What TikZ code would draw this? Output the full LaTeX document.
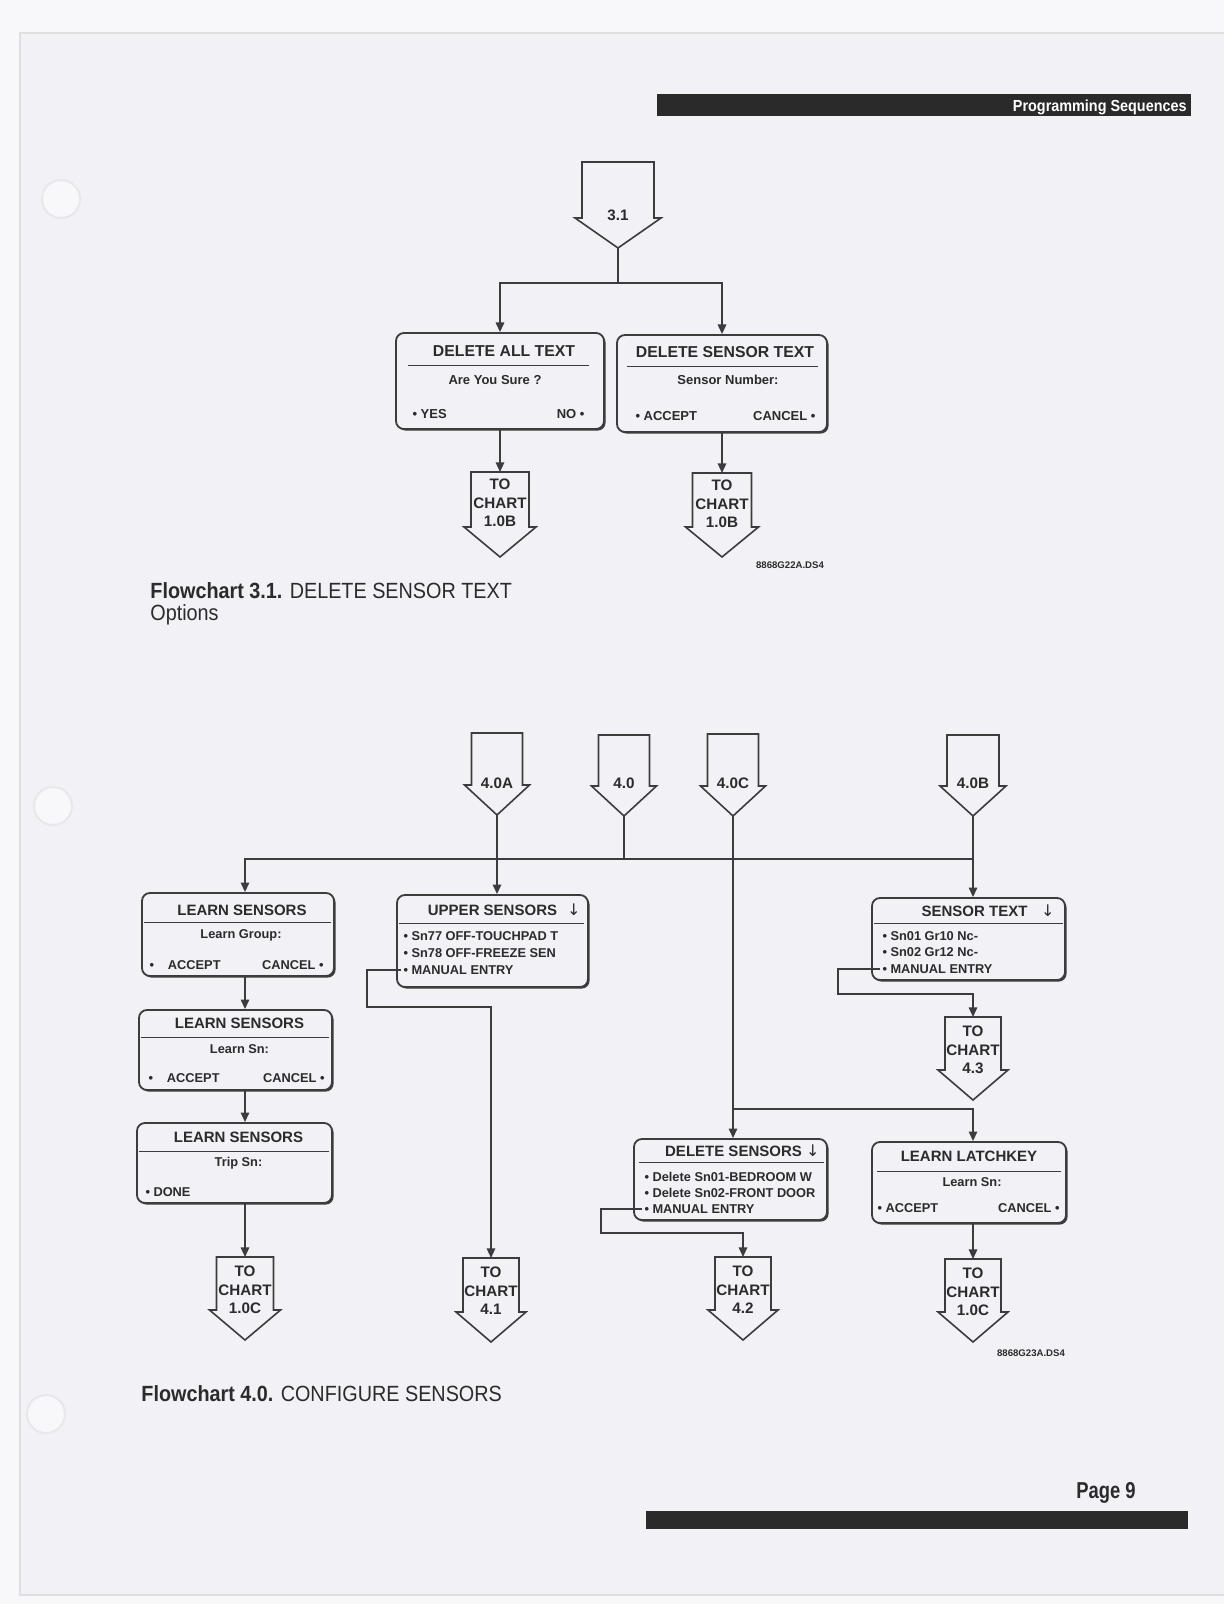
\documentclass[tikz,border=0pt]{standalone}
\usepackage{fontspec}
\setmainfont{Liberation Sans}
\newfontfamily\symfont{DejaVu Sans}
\newfontfamily\capfont{Liberation Sans}[FakeStretch=0.9]
\newfontfamily\condfont{Liberation Sans}[FakeStretch=0.8]
\usetikzlibrary{arrows.meta, calc, positioning, shadows}
\definecolor{pgBack}{HTML}{F1F1F6}
\definecolor{pgEdge}{HTML}{F8F8FA}
\definecolor{pgInk}{HTML}{2B2B2B}
\definecolor{pgLine}{HTML}{3C3C3C}
\definecolor{pgBar}{HTML}{2A2A2A}
\tikzset{
  flow/.style       = {-{Triangle[length=4.8pt, width=4.2pt]}, line width=0.9pt, pgLine},
  joinline/.style   = {line width=0.9pt, pgLine},
  blockarrow/.style = {draw=pgLine, line width=0.8pt, fill=pgBack, line join=miter},
  arrowlbl/.style   = {font=\bfseries\fontsize{7.6}{9.3}\selectfont, text=pgInk,
                       align=center, inner sep=0},
  menubox/.style    = {draw=pgLine, line width=0.9pt, rounded corners=4pt, fill=pgBack,
                       inner sep=0, drop shadow={shadow xshift=0.8pt,
                       shadow yshift=-0.8pt, fill=pgLine, opacity=1}},
  boxrule/.style    = {pgLine, line width=0.5pt},
  ttl/.style        = {font=\bfseries\fontsize{7.5}{9}\selectfont, text=pgInk, inner sep=0},
  bigttl/.style     = {ttl, font=\bfseries\fontsize{7.9}{9}\selectfont},
  subtxt/.style     = {font=\bfseries\fontsize{6.4}{7}\selectfont, text=pgInk, inner sep=0},
  bigsub/.style     = {subtxt, font=\bfseries\fontsize{6.5}{7}\selectfont},
  dnmark/.style     = {font=\symfont\fontsize{8}{9}\selectfont, text=pgInk, inner sep=0},
  capttl/.style     = {font=\capfont\fontsize{11}{11}\selectfont, text=pgInk,
                       align=left, inner sep=0},
  codelbl/.style    = {font=\bfseries\fontsize{4.8}{5}\selectfont, text=pgInk, inner sep=0},
}
% name, centre x, top y, half body width, body height, label offset, label
\newcommand{\blockarrow}[7]{%
  \draw[blockarrow] (#2-#4,#3) -- (#2+#4,#3) -- (#2+#4,#3+#5)
    -- (#2+#4+7,#3+#5) -- (#2,#3+#5+30) -- (#2-#4-7,#3+#5)
    -- (#2-#4,#3+#5) -- cycle;
  \coordinate (#1-in) at (#2,#3);
  \coordinate (#1-out) at (#2,#3+#5+30);
  \node[arrowlbl] (#1) at (#2,#3+#6) {#7};}

\begin{document}
\begin{tikzpicture}[x=0.5pt, y=-0.5pt]
  \useasboundingbox (0,0) rectangle (1224,1604);
  % page
  \fill[pgEdge] (0,0) rectangle (1224,1604);
  \fill[pgBack] (20,33) rectangle (1224,1595);
  \draw[gray!25, line width=0.6pt] (1224,33) -- (20,33) -- (20,1595) -- (1224,1595);
  \foreach \hx/\hy in {61/199, 53/806, 46/1414}
    \draw[gray!18, fill=pgEdge, line width=1pt] (\hx,\hy) circle[radius=19];

  % header and footer
  \fill[pgBar] (657,94) rectangle (1191,116);
  \node[font=\capfont\bfseries\fontsize{8}{9}\selectfont, text=white, anchor=east,
        inner sep=0] (hdr) at (1187,107.5) {Programming Sequences};
  \node[font=\condfont\bfseries\fontsize{11.5}{12}\selectfont, text=pgInk, inner sep=0]
    (pg) at (1106,1493) {Page 9};
  \fill[pgBar] (646,1511) rectangle (1188,1529);

  % ---- Flowchart 3.1 ----
  \blockarrow{a31}{618}{162}{36}{56}{53}{3.1}

  \node[menubox, minimum width=104pt, minimum height=48pt] (dall) at (500,381) {};
  \node[bigttl] (dall-t) at ($(dall.north)+(4,19)$) {DELETE ALL TEXT};
  \draw[boxrule] ($(dall.north west)+(13,33)$) -- ($(dall.north east)+(-16,33)$);
  \node[bigsub] (dall-s) at ($(dall.north)+(-5,48)$) {Are You Sure ?};
  \node[bigsub, anchor=west] (dall-y) at ($(dall.north west)+(17,82)$) {\textbullet\ YES};
  \node[bigsub, anchor=east] (dall-n) at ($(dall.north east)+(-20,82)$) {NO \textbullet};

  \node[menubox, minimum width=105pt, minimum height=48.5pt] (dsens) at (722,383.5) {};
  \node[bigttl] (dsens-t) at ($(dsens.north)+(3,18)$) {DELETE SENSOR TEXT};
  \draw[boxrule] ($(dsens.north west)+(11,32)$) -- ($(dsens.north east)+(-10,32)$);
  \node[bigsub] (dsens-s) at ($(dsens.north)+(6,46)$) {Sensor Number:};
  \node[bigsub, anchor=west] (dsens-a) at ($(dsens.north west)+(19,82)$) {\textbullet\ ACCEPT};
  \node[bigsub, anchor=east] (dsens-c) at ($(dsens.north east)+(-12,82)$) {CANCEL \textbullet};

  \blockarrow{tc1}{500}{472}{29}{55}{31}{TO\\CHART\\1.0B}
  \blockarrow{tc2}{722}{473}{29.5}{54}{31}{TO\\CHART\\1.0B}

  \coordinate (tfork) at ($(a31-out)+(0,35)$);
  \draw[joinline] (a31-out) -- (tfork);
  \draw[flow] (tfork) -| (dall.north);
  \draw[flow] (tfork) -| (dsens.north);
  \draw[flow] (dall.south) -- (tc1-in);
  \draw[flow] (dsens.south) -- (tc2-in);

  \node[codelbl] (code1) at (790,565) {8868G22A.DS4};
  \node[capttl, anchor=north west] (cap31) at (150,582)
    {\textbf{Flowchart 3.1.} DELETE SENSOR TEXT\\Options};

  % ---- Flowchart 4.0 ----
  \blockarrow{a40A}{497}{733}{25.5}{52}{50}{4.0A}
  \blockarrow{a40}{624}{735}{25.5}{51}{48}{4.0}
  \blockarrow{a40C}{733}{734}{25.5}{52}{49}{4.0C}
  \blockarrow{a40B}{973}{735}{26}{51}{48}{4.0B}

  % learn sensors column
  \node[menubox, minimum width=96pt, minimum height=41.5pt] (ls1) at (238,934.5) {};
  \node[ttl] (ls1-t) at ($(ls1.north)+(4,18)$) {LEARN SENSORS};
  \draw[boxrule] ($(ls1.north west)+(3,30)$) -- ($(ls1.north east)+(-4,30)$);
  \node[subtxt] (ls1-s) at ($(ls1.north)+(3,43)$) {Learn Group:};
  \node[subtxt, anchor=west] (ls1-a) at ($(ls1.north west)+(8,73)$) {\textbullet\hspace{7pt}ACCEPT};
  \node[subtxt, anchor=east] (ls1-c) at ($(ls1.north east)+(-11,73)$) {CANCEL \textbullet};

  \node[menubox, minimum width=96.5pt, minimum height=40pt] (ls2) at (235.5,1050) {};
  \node[ttl] (ls2-t) at ($(ls2.north)+(4,14)$) {LEARN SENSORS};
  \draw[boxrule] ($(ls2.north west)+(3,28)$) -- ($(ls2.north east)+(-4,28)$);
  \node[subtxt] (ls2-s) at ($(ls2.north)+(4,40)$) {Learn Sn:};
  \node[subtxt, anchor=west] (ls2-a) at ($(ls2.north west)+(10,69)$) {\textbullet\hspace{7pt}ACCEPT};
  \node[subtxt, anchor=east] (ls2-c) at ($(ls2.north east)+(-8,69)$) {CANCEL \textbullet};

  \node[menubox, minimum width=97.5pt, minimum height=40pt] (ls3) at (234.5,1163) {};
  \node[ttl] (ls3-t) at ($(ls3.north)+(4,15)$) {LEARN SENSORS};
  \draw[boxrule] ($(ls3.north west)+(3,29)$) -- ($(ls3.north east)+(-4,29)$);
  \node[subtxt] (ls3-s) at ($(ls3.north)+(4,41)$) {Trip Sn:};
  \node[subtxt, anchor=west] (ls3-d) at ($(ls3.north west)+(9,70)$) {\textbullet\ DONE};

  % upper sensors
  \node[menubox, minimum width=95.5pt, minimum height=46pt] (upper) at (492.5,941) {};
  \node[ttl] (up-t) at ($(upper.north)+(0,16)$) {UPPER SENSORS};
  \node[dnmark] (up-d) at ($(upper.north east)+(-15,16)$) {↓};
  \draw[boxrule] ($(upper.north west)+(3,29)$) -- ($(upper.north east)+(-5,29)$);
  \node[subtxt, anchor=west] (up-1) at ($(upper.north west)+(7,42)$) {\textbullet\ Sn77 OFF-TOUCHPAD T};
  \node[subtxt, anchor=west] (up-2) at ($(upper.north west)+(7,59)$) {\textbullet\ Sn78 OFF-FREEZE SEN};
  \node[subtxt, anchor=west] (upme) at ($(upper.north west)+(7,76)$) {\textbullet\ MANUAL ENTRY};

  % sensor text
  \node[menubox, minimum width=96.5pt, minimum height=41pt] (stext) at (968.5,939) {};
  \node[ttl] (st-t) at ($(stext.north)+(6,14)$) {SENSOR TEXT};
  \node[dnmark] (st-d) at ($(stext.north east)+(-18,14)$) {↓};
  \draw[boxrule] ($(stext.north west)+(3,26)$) -- ($(stext.north east)+(-3,26)$);
  \node[subtxt, anchor=west] (st-1) at ($(stext.north west)+(11,39)$) {\textbullet\ Sn01 Gr10 Nc-};
  \node[subtxt, anchor=west] (st-2) at ($(stext.north west)+(11,55)$) {\textbullet\ Sn02 Gr12 Nc-};
  \node[subtxt, anchor=west] (stme) at ($(stext.north west)+(11,72)$) {\textbullet\ MANUAL ENTRY};

  % delete sensors
  \node[menubox, minimum width=96.5pt, minimum height=40.5pt] (dsn) at (730.5,1179.5) {};
  \node[ttl] (ds-t) at ($(dsn.north)+(3,13)$) {DELETE SENSORS};
  \node[dnmark] (ds-d) at ($(dsn.north east)+(-15,13)$) {↓};
  \draw[boxrule] ($(dsn.north west)+(6,24)$) -- ($(dsn.north east)+(-4,24)$);
  \node[subtxt, anchor=west] (ds-1) at ($(dsn.north west)+(11,39)$) {\textbullet\ Delete Sn01-BEDROOM W};
  \node[subtxt, anchor=west] (ds-2) at ($(dsn.north west)+(11,55)$) {\textbullet\ Delete Sn02-FRONT DOOR};
  \node[subtxt, anchor=west] (dsme) at ($(dsn.north west)+(11,71)$) {\textbullet\ MANUAL ENTRY};

  % learn latchkey
  \node[menubox, minimum width=97pt, minimum height=40.5pt] (latch) at (969,1182.5) {};
  \node[ttl] (la-t) at ($(latch.north)+(0,15)$) {LEARN LATCHKEY};
  \draw[boxrule] ($(latch.north west)+(6,30)$) -- ($(latch.north east)+(-6,30)$);
  \node[subtxt] (la-s) at ($(latch.north)+(3,41)$) {Learn Sn:};
  \node[subtxt, anchor=west] (la-a) at ($(latch.north west)+(6,67)$) {\textbullet\ ACCEPT};
  \node[subtxt, anchor=east] (la-c) at ($(latch.north east)+(-7,67)$) {CANCEL \textbullet};

  % exits
  \blockarrow{tc10C}{245}{1257}{28.5}{53}{33}{TO\\CHART\\1.0C}
  \blockarrow{tc41}{491}{1258}{28}{54}{33}{TO\\CHART\\4.1}
  \blockarrow{tc42}{743}{1257}{28}{53}{33}{TO\\CHART\\4.2}
  \blockarrow{tc43}{973}{1017}{28}{53}{33}{TO\\CHART\\4.3}
  \blockarrow{tc10Cr}{973}{1259}{28}{53}{33}{TO\\CHART\\1.0C}

  % connectors
  \coordinate (lcol) at (245,859);
  \coordinate (cfork) at ($(a40C-out)+(0,293)$);
  \coordinate (uploop) at (367,1007);
  \coordinate (stloop) at (838,994);
  \coordinate (dsloop) at (601,1233);

  \draw[joinline] (a40-out) -- (a40-out |- lcol);
  \draw[flow] (a40B-out |- lcol) -- (lcol) -- (lcol |- ls1.north);
  \draw[flow] (a40A-out) -- (a40A-out |- upper.north);
  \draw[flow] (a40B-out) -- (a40B-out |- stext.north);
  \draw[flow] (ls1.south -| lcol) -- (ls2.north -| lcol);
  \draw[flow] (ls2.south -| lcol) -- (ls3.north -| lcol);
  \draw[flow] (ls3.south -| lcol) -- (tc10C-in);
  \draw[flow] ([xshift=-1pt]upme.west) -| (uploop) -| (tc41-in);
  \draw[flow] ([xshift=-1pt]stme.west) -| (stloop) -| (tc43-in);
  \draw[joinline] (a40C-out) -- (cfork);
  \draw[flow] (cfork) -- (cfork |- dsn.north);
  \draw[flow] (cfork) -| (latch.north -| a40B-out);
  \draw[flow] ([xshift=-1pt]dsme.west) -| (dsloop) -| (tc42-in);
  \draw[flow] (latch.south -| a40B-out) -- (tc10Cr-in);

  \node[codelbl] (code2) at (1031,1353) {8868G23A.DS4};
  \node[capttl, anchor=north west] (cap40) at (141,1385)
    {\textbf{Flowchart 4.0.} CONFIGURE SENSORS};
\end{tikzpicture}
\end{document}
